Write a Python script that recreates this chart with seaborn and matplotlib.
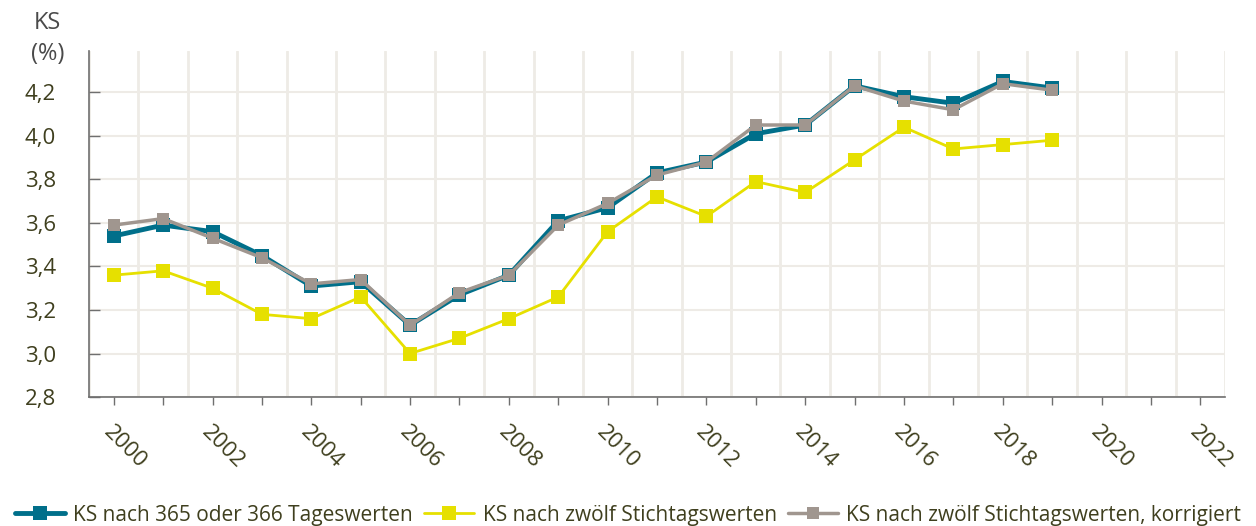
import numpy as np
import pandas as pd
import matplotlib
matplotlib.use("Agg")
import matplotlib.pyplot as plt
import seaborn as sns

# === Daten ===
years = list(range(2000, 2020))
ks_tageswerte = [3.54, 3.59, 3.56, 3.45, 3.31, 3.33, 3.13, 3.27, 3.36, 3.61,
                 3.67, 3.83, 3.88, 4.01, 4.05, 4.23, 4.18, 4.15, 4.25, 4.22]
ks_stichtag = [3.36, 3.38, 3.30, 3.18, 3.16, 3.26, 3.00, 3.07, 3.16, 3.26,
               3.56, 3.72, 3.63, 3.79, 3.74, 3.89, 4.04, 3.94, 3.96, 3.98]
ks_korrigiert = [3.59, 3.62, 3.53, 3.44, 3.32, 3.34, 3.13, 3.28, 3.36, 3.59,
                 3.69, 3.82, 3.88, 4.05, 4.05, 4.23, 4.16, 4.12, 4.24, 4.21]
labels = ["KS nach 365 oder 366 Tageswerten",
          "KS nach zwölf Stichtagswerten",
          "KS nach zwölf Stichtagswerten, korrigiert"]
x_years = list(range(2000, 2023))
y_ticks = [2.8, 3.0, 3.2, 3.4, 3.6, 3.8, 4.0, 4.2]

BLUE = "#006f8a"
YELLOW = "#e6e000"
GRAY = "#a0968f"
TEXT = "#3f3f1e"
GRID = "#eeebe6"

sns.set_theme(style="white")
plt.rcParams["font.family"] = ["Open Sans", "DejaVu Sans"]

fig = plt.figure(figsize=(12.56, 5.26), dpi=100)
ax = fig.add_axes([0.0709, 0.2452, 0.9044, 0.6578])

styles = [
    (ks_tageswerte, BLUE, 3.5, 10),
    (ks_stichtag, YELLOW, 2.0, 10),
    (ks_korrigiert, GRAY, 2.5, 8.5),
]
for (vals, color, lw, ms), lab in zip(styles, labels):
    df = pd.DataFrame({"Jahr": years, "KS": vals})
    sns.lineplot(data=df, x="Jahr", y="KS", ax=ax, color=color, linewidth=lw,
                 marker="s", markersize=ms, markeredgewidth=0, label=lab)

# === Achsen ===
ax.set_xlim(1999.5, 2022.5)
ax.set_ylim(2.8, 4.39)
ax.set_xticks(x_years)
ax.set_xticklabels([str(y) if y % 2 == 0 else "" for y in x_years],
                   rotation=-45, ha="left", va="top", rotation_mode="anchor")
ax.set_xticks(np.arange(1999.5, 2023, 1), minor=True)
ax.set_yticks(y_ticks)
ax.set_yticklabels([f"{v:.1f}".replace(".", ",") for v in y_ticks])
ax.set_xlabel("")
ax.set_ylabel("")

ax.grid(False)
ax.yaxis.grid(True, color=GRID, linewidth=1.5)
ax.xaxis.grid(True, which="minor", color=GRID, linewidth=2)
ax.set_axisbelow(True)

for s in ["top", "right"]:
    ax.spines[s].set_visible(False)
for s in ["left", "bottom"]:
    ax.spines[s].set_color("#6f6f6f")
    ax.spines[s].set_linewidth(1.2)

ax.tick_params(axis="x", which="major", bottom=True, length=6, width=1,
               color="#6f6f6f", labelsize=16, labelcolor=TEXT, pad=12)
ax.tick_params(axis="x", which="minor", bottom=False, length=0)
ax.tick_params(axis="y", left=True, direction="in", length=8, width=1,
               color="#6f6f6f", labelsize=16, labelcolor=TEXT, pad=24)

fig.text(0.038, 0.957, "KS", fontsize=17, color="#4a4a4a", ha="center", va="center")
fig.text(0.038, 0.897, "(%)", fontsize=17, color="#4a4a4a", ha="center", va="center")

# === Legende ===
ax.legend_.remove()
handles, _ = ax.get_legend_handles_labels()
fig.legend(handles, labels, loc="lower center", bbox_to_anchor=(0.5, -0.035),
           ncol=3, frameon=False, fontsize=15, labelcolor=TEXT,
           handlelength=2.4, handletextpad=0.4, columnspacing=0.55,
           markerscale=1.0)

fig.savefig("out.png", dpi=100)
